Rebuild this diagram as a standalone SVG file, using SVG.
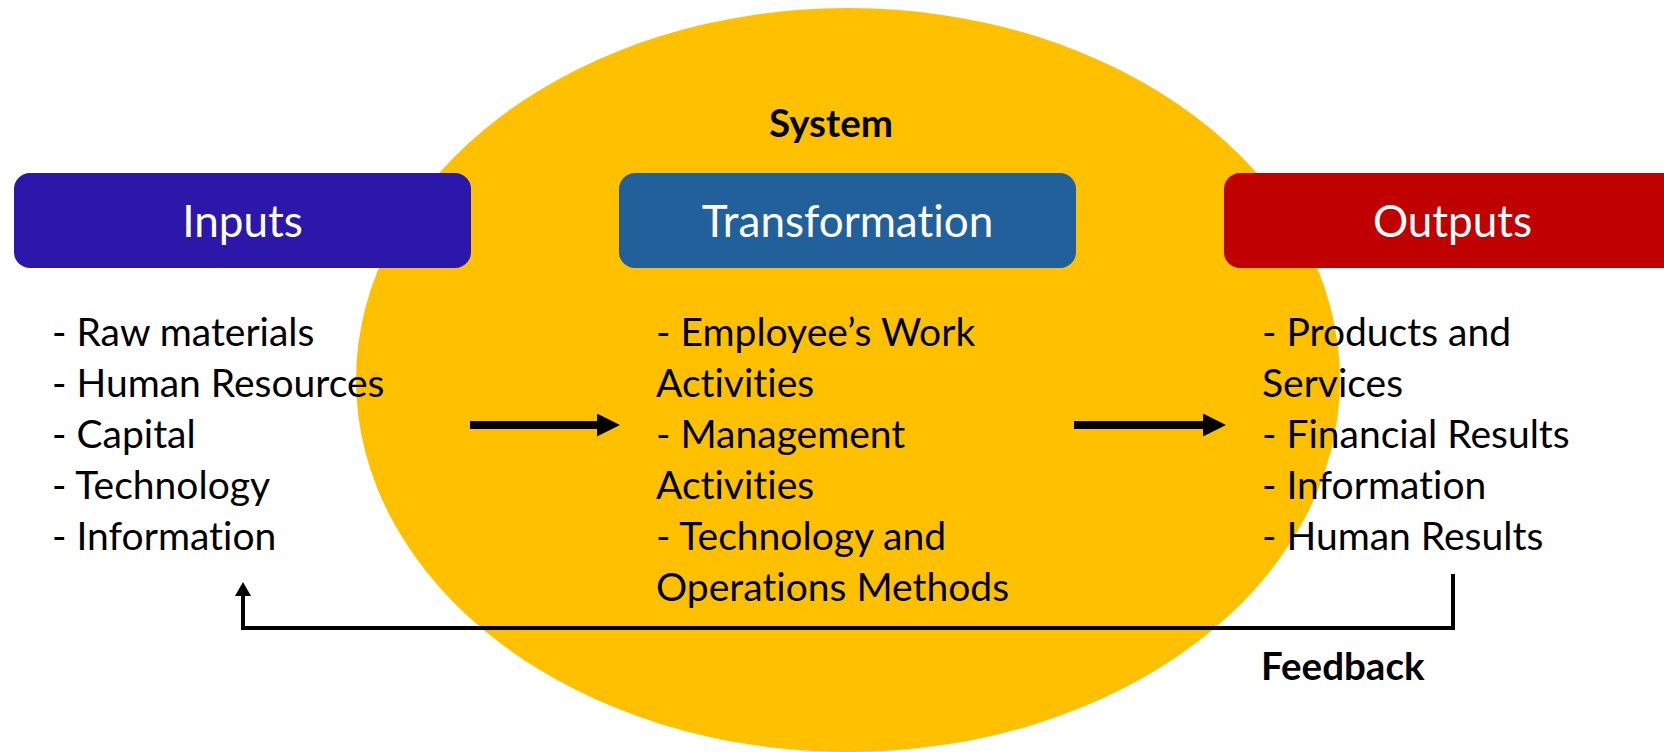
<svg xmlns="http://www.w3.org/2000/svg" width="1664" height="752" viewBox="0 0 1664 752">
<style>
text{font-variant-ligatures:none;font-feature-settings:"liga" 0}
.title{font-family:Lato,"Open Sans","Liberation Sans",sans-serif;font-size:44px;fill:#fff;text-anchor:middle}
.body{font-family:Lato,"Open Sans","Liberation Sans",sans-serif;font-size:39px;fill:#000}
.bold{font-family:Lato,"Open Sans","Liberation Sans",sans-serif;font-size:38.5px;font-weight:bold;fill:#000}
.ln{stroke:#000;fill:none}
</style>
<defs>
<marker id="ah" viewBox="0 0 23 23" refX="0" refY="11.5" markerWidth="23" markerHeight="23" markerUnits="userSpaceOnUse" orient="auto">
<path d="M0,0 L23,11.5 L0,23 Z" fill="#000"/>
</marker>
<marker id="fb" viewBox="0 0 14 16" refX="0" refY="8" markerWidth="14" markerHeight="16" markerUnits="userSpaceOnUse" orient="auto">
<path d="M0,0 L14,8 L0,16 Z" fill="#000"/>
</marker>
</defs>
<rect width="1664" height="752" fill="#fff"/>
<g id="system">
<ellipse cx="848" cy="380" rx="492" ry="372" fill="#FFC000"/>
<text class="bold" x="831" y="137" text-anchor="middle">System</text>
</g>
<g id="inputs">
<rect x="14" y="173" width="457" height="95" rx="16" fill="#2B17A9"/>
<text class="title" x="242.5" y="237">Inputs</text>
<text class="body" x="52" y="346">- Raw materials</text>
<text class="body" x="52" y="397">- Human Resources</text>
<text class="body" x="52" y="448">- Capital</text>
<text class="body" x="52" y="499">- Technology</text>
<text class="body" x="52" y="550">- Information</text>
</g>
<g id="transformation">
<rect x="619" y="173" width="457" height="95" rx="16" fill="#22609C"/>
<text class="title" x="847.5" y="237">Transformation</text>
<text class="body" x="656" y="346">- Employee’s Work</text>
<text class="body" x="656" y="397">Activities</text>
<text class="body" x="656" y="448">- Management</text>
<text class="body" x="656" y="499">Activities</text>
<text class="body" x="656" y="550">- Technology and</text>
<text class="body" x="656" y="601">Operations Methods</text>
</g>
<g id="outputs">
<rect x="1224" y="173" width="457" height="95" rx="16" fill="#C00000"/>
<text class="title" x="1452.5" y="237">Outputs</text>
<text class="body" x="1262" y="346">- Products and</text>
<text class="body" x="1262" y="397">Services</text>
<text class="body" x="1262" y="448">- Financial Results</text>
<text class="body" x="1262" y="499">- Information</text>
<text class="body" x="1262" y="550">- Human Results</text>
</g>
<g id="feedback-label">
<text class="bold" x="1261" y="680">Feedback</text>
</g>
<g id="connectors">
<path class="ln" d="M470,425 H597" stroke-width="8" marker-end="url(#ah)"/>
<path class="ln" d="M1074,425 H1203" stroke-width="8" marker-end="url(#ah)"/>
<path class="ln" d="M1453,574 V628 H243 V596" stroke-width="4" marker-end="url(#fb)"/>
</g>
</svg>
